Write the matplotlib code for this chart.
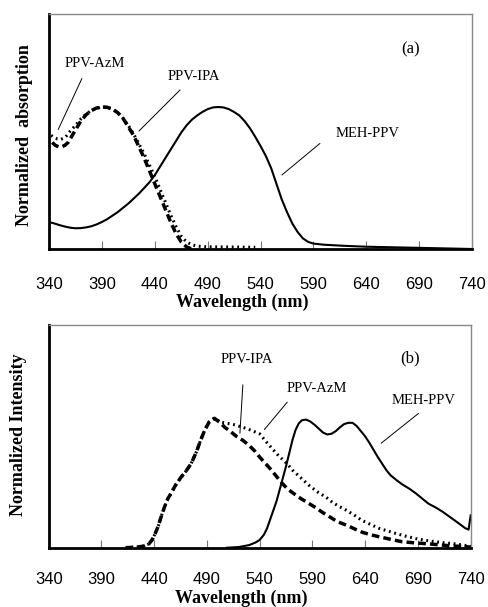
import matplotlib.pyplot as plt

# (a) absorption spectra
absWlMeh = [340, 345, 350, 355, 360, 365, 370, 375, 380, 385, 390, 395, 400, 405, 410, 415,
            420, 425, 430, 435, 440, 445, 450, 455, 460, 465, 470, 475, 480, 485, 490, 495,
            500, 505, 510, 515, 520, 525, 530, 535, 540, 545, 550, 555, 560, 565, 570, 575,
            580, 585, 590, 600, 620, 640, 690, 740]
absMeh = [0.19, 0.18, 0.168, 0.158, 0.150, 0.146, 0.147, 0.152, 0.160, 0.173, 0.19, 0.21,
          0.235, 0.26, 0.29, 0.32, 0.355, 0.39, 0.43, 0.47, 0.52, 0.58, 0.64, 0.70, 0.76, 0.82,
          0.87, 0.91, 0.94, 0.965, 0.985, 0.997, 1.0, 0.997, 0.985, 0.965, 0.94, 0.90, 0.85,
          0.79, 0.725, 0.655, 0.57, 0.46, 0.35, 0.26, 0.18, 0.12, 0.075, 0.05, 0.038, 0.03,
          0.022, 0.016, 0.008, 0.0]

absWlAzm = [342, 345, 348, 351, 354, 357, 360, 365, 370, 375, 380, 385, 390, 395, 400, 405,
            410, 415, 420, 425, 430, 435, 440, 445, 450, 455, 460, 465, 470, 475, 480, 490,
            510, 535]
absAzm = [0.80, 0.785, 0.775, 0.772, 0.78, 0.80, 0.83, 0.87, 0.915, 0.95, 0.975, 0.99, 1.0,
          0.998, 0.985, 0.96, 0.92, 0.87, 0.81, 0.74, 0.67, 0.59, 0.51, 0.42, 0.33, 0.24,
          0.16, 0.09, 0.05, 0.03, 0.02, 0.015, 0.014, 0.012]

absWlIpa = [343, 346, 349, 352, 355, 358, 362, 366, 370, 375, 380, 385, 390, 395, 400, 405,
            410, 415, 420, 425, 430, 435, 440, 445, 450, 455, 460, 465, 470, 475]
absIpa = [0.75, 0.73, 0.72, 0.72, 0.73, 0.75, 0.80, 0.85, 0.90, 0.945, 0.975, 0.993, 1.0,
          0.998, 0.985, 0.96, 0.92, 0.86, 0.80, 0.72, 0.64, 0.55, 0.46, 0.37, 0.28, 0.19,
          0.11, 0.05, 0.015, 0.0]

# (b) emission spectra
plWlIpa = [413, 420, 425, 430, 435, 438, 441, 444, 447, 450, 453, 456, 460, 465, 470, 475,
           480, 484, 488, 492, 497, 502, 507, 512, 518, 524, 530, 535, 540, 545, 550, 556,
           561, 567, 572, 577, 585, 593, 600, 606, 614, 622, 630, 637, 645, 653, 664, 675,
           690, 700, 720, 740]
plIpa = [0.0, 0.003, 0.006, 0.012, 0.03, 0.06, 0.11, 0.17, 0.25, 0.32, 0.38, 0.42, 0.48,
         0.54, 0.59, 0.65, 0.74, 0.83, 0.91, 0.97, 1.0, 0.97, 0.93, 0.90, 0.86, 0.83, 0.79,
         0.75, 0.70, 0.655, 0.61, 0.55, 0.50, 0.45, 0.42, 0.39, 0.35, 0.31, 0.27, 0.24, 0.20,
         0.175, 0.145, 0.12, 0.10, 0.085, 0.065, 0.046, 0.035, 0.03, 0.015, 0.005]

plWlAzm = [413, 420, 425, 430, 435, 438, 441, 444, 447, 450, 453, 456, 460, 465, 470, 475,
           480, 484, 488, 492, 497, 503, 510, 516, 522, 528, 534, 540, 546, 553, 558, 562,
           567, 571, 579, 587, 595, 603, 609, 615, 622, 630, 637, 645, 653, 661, 669, 678,
           688, 697, 707, 716, 725, 733, 740]
plAzm = [0.0, 0.003, 0.006, 0.012, 0.03, 0.06, 0.11, 0.17, 0.25, 0.32, 0.38, 0.42, 0.48,
         0.54, 0.59, 0.65, 0.74, 0.83, 0.91, 0.97, 1.0, 0.97, 0.96, 0.95, 0.935, 0.92, 0.90,
         0.88, 0.82, 0.755, 0.71, 0.68, 0.64, 0.60, 0.54, 0.48, 0.43, 0.39, 0.35, 0.32, 0.29,
         0.25, 0.21, 0.18, 0.15, 0.13, 0.11, 0.09, 0.07, 0.057, 0.046, 0.037, 0.03, 0.02,
         0.01]

plWlMeh = [509, 520, 530, 536, 540, 544, 547, 550, 553, 556, 559, 562, 565, 568, 571, 574,
           577, 580, 584, 588, 592, 596, 600, 604, 608, 612, 616, 620, 624, 628, 632, 636,
           640, 644, 648, 652, 656, 660, 664, 670, 675, 682, 688, 694, 700, 707, 713, 719,
           725, 730, 735, 738, 740]
plMeh = [0.0, 0.005, 0.02, 0.04, 0.06, 0.10, 0.15, 0.22, 0.29, 0.36, 0.45, 0.54, 0.63, 0.73,
         0.83, 0.91, 0.96, 0.985, 0.99, 0.975, 0.95, 0.92, 0.89, 0.875, 0.88, 0.90, 0.93,
         0.955, 0.965, 0.965, 0.94, 0.90, 0.86, 0.81, 0.755, 0.70, 0.65, 0.60, 0.56, 0.52,
         0.49, 0.455, 0.42, 0.38, 0.34, 0.31, 0.28, 0.245, 0.21, 0.18, 0.15, 0.14, 0.25]

xticks = [340, 390, 440, 490, 540, 590, 640, 690, 740]

serif = 'Liberation Serif'
sans = 'Liberation Sans'

fig = plt.figure(figsize=(4.88, 6.07), dpi=100)
axA = fig.add_axes([0.1004, 0.5898, 0.867, 0.3876])
axB = fig.add_axes([0.0998, 0.0977, 0.8647, 0.3669])


def style(ax, ylabel, ytop, pad, ylab_xy, xlab_xy):
    ax.set_xlim(340, 740)
    ax.set_ylim(0, ytop)
    ax.set_xticks(xticks)
    ax.set_yticks([])
    ax.tick_params(axis='x', direction='in', length=6, width=0.8, color='#777777',
                   pad=pad, labelsize=12)
    for lab in ax.get_xticklabels():
        lab.set_fontfamily(sans)
    for side in ['top', 'right']:
        ax.spines[side].set_color('#888888')
        ax.spines[side].set_linewidth(1.0)
    for side in ['left', 'bottom']:
        ax.spines[side].set_color('black')
        ax.spines[side].set_linewidth(2.0)
    ax.set_xlabel('Wavelength (nm)', fontfamily=serif, fontweight='bold', fontsize=13)
    ax.set_ylabel(ylabel, fontfamily=serif, fontweight='bold', fontsize=13)
    ax.xaxis.set_label_coords(*xlab_xy)
    ax.yaxis.set_label_coords(*ylab_xy)


def tag(ax, text, xy, start, end):
    ax.text(xy[0], xy[1], text, ha='center', va='center', fontfamily=serif, fontsize=10.5)
    ax.annotate('', xy=end, xytext=start,
                arrowprops=dict(arrowstyle='-', lw=0.7, color='black'))


# panel (a)
axA.plot(absWlMeh, absMeh, color='black', lw=1.5)
axA.plot(absWlAzm, absAzm, color='black', lw=2.2, linestyle=(0, (0.6, 1.2)))
axA.plot(absWlIpa, absIpa, color='black', lw=2.5, linestyle=(0, (2.2, 1.2)))
style(axA, 'Normalized  absorption', 1.657, 20, (-0.038, 0.4845), (0.4556, -0.19))
tag(axA, 'PPV-AzM', (383.5, 1.308), (372.2, 1.218), (347.6, 0.824))
tag(axA, 'PPV-IPA', (477.1, 1.218), (465.8, 1.134), (423.2, 0.817))
tag(axA, 'MEH-PPV', (641, 0.815), (598.2, 0.756), (558.2, 0.509))
axA.text(681.4, 1.408, '(a)', ha='center', va='center', fontfamily=serif, fontsize=12)

# panel (b)
axB.plot(plWlMeh, plMeh, color='black', lw=1.5)
axB.plot(plWlAzm, plAzm, color='black', lw=2.2, linestyle=(0, (0.6, 1.2)))
axB.plot(plWlIpa, plIpa, color='black', lw=2.5, linestyle=(0, (2.2, 1.2)))
style(axB, 'Normalized Intensity', 1.721, 17.5, (-0.051, 0.506), (0.457, -0.19))
tag(axB, 'PPV-IPA', (528, 1.456), (524.2, 1.28), (521.1, 0.863))
tag(axB, 'PPV-AzM', (593.8, 1.232), (567.8, 1.141), (542.7, 0.896))
tag(axB, 'MEH-PPV', (695.7, 1.141), (692.6, 1.051), (653.1, 0.794))
axB.text(682.2, 1.464, '(b)', ha='center', va='center', fontfamily=serif, fontsize=12)

fig.savefig('out.png', dpi=100)
